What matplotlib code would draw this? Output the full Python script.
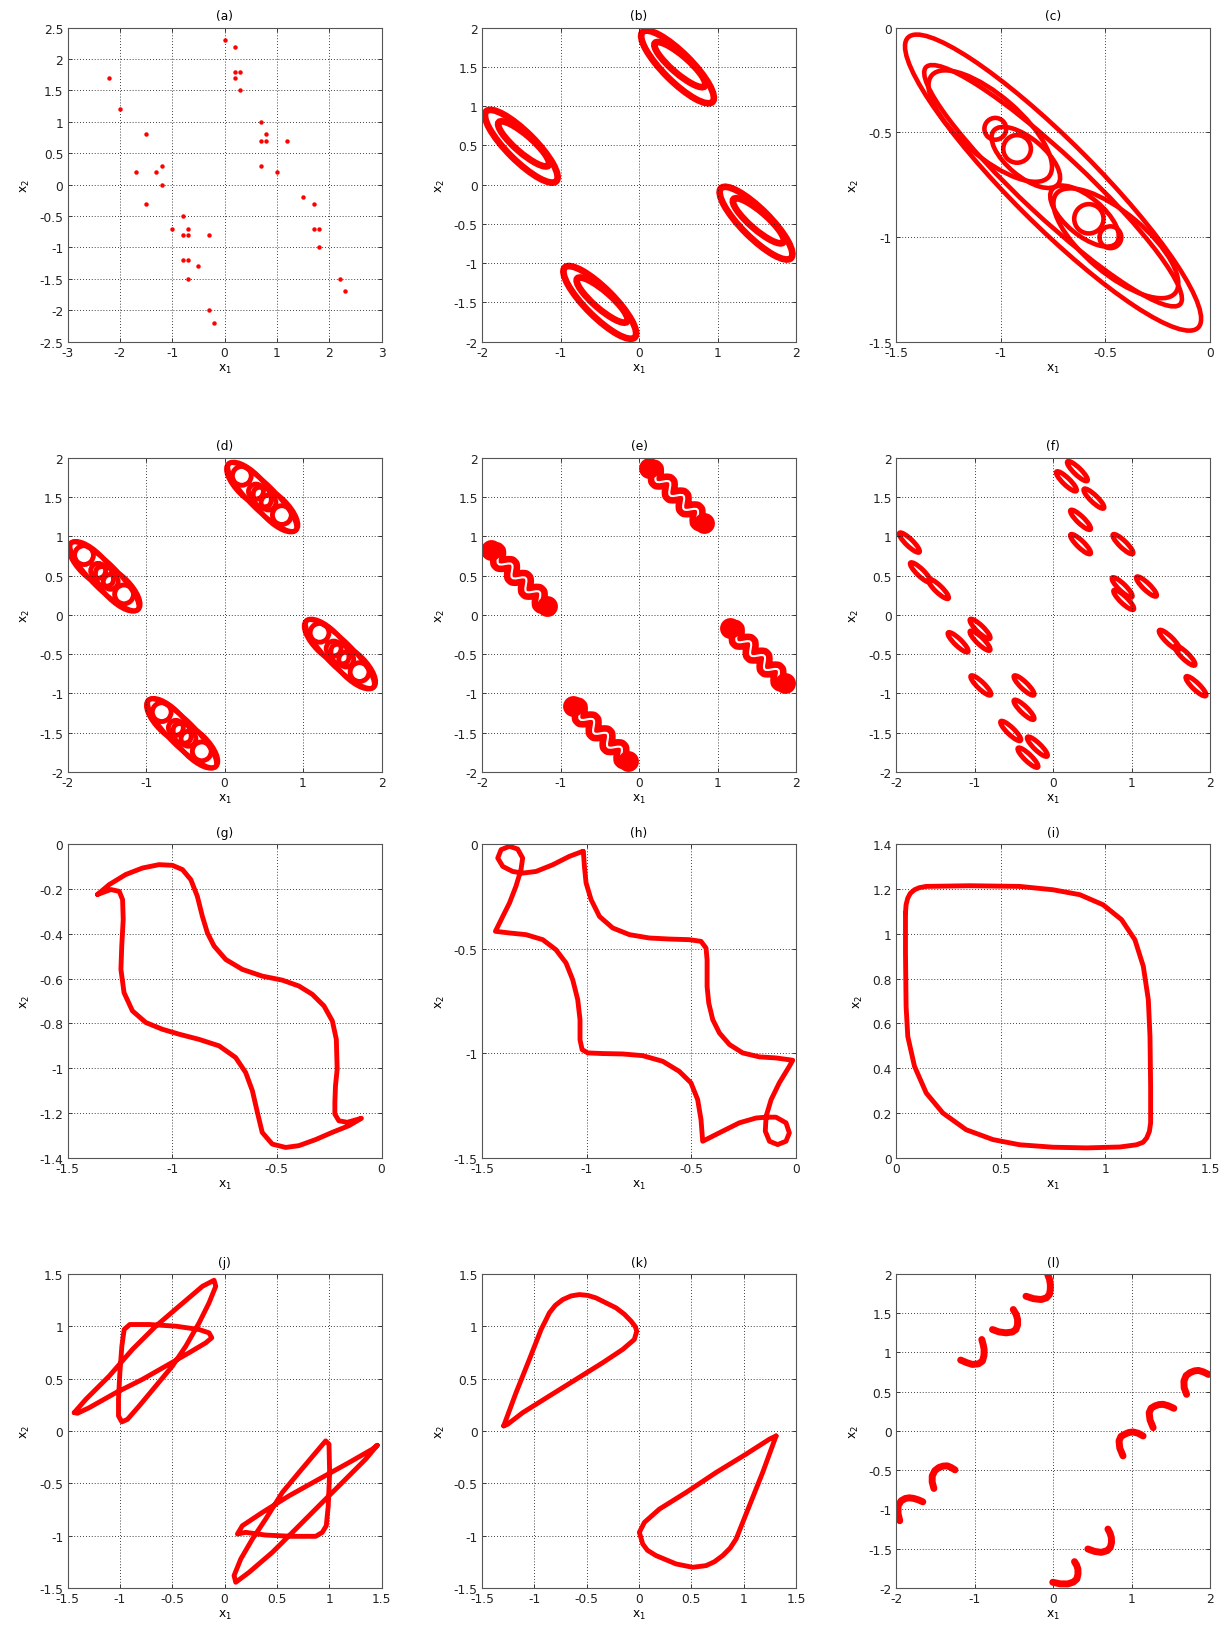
import numpy as np
import matplotlib
matplotlib.use('Agg')
import matplotlib.pyplot as plt
from matplotlib.patches import Ellipse
from matplotlib.ticker import FuncFormatter

plt.rcParams['font.family'] = ['DejaVu Sans']
plt.rcParams['font.size'] = 8.8
plt.rcParams['axes.unicode_minus'] = False
plt.rcParams['mathtext.fontset'] = 'dejavusans'

RED = '#ff0000'

###############################################
### Data

# (a) scattered points
a_x = [-2.2, -2.0, -1.5, -1.7, -1.3, -1.2, -1.2, -1.5, -0.8, -1.0, -0.8, -0.7, -0.7, -0.3,
       -0.8, -0.7, -0.5, -0.7, -0.3, -0.2, 0.0, 0.2, 0.2, 0.3, 0.2, 0.3, 0.7, 0.8, 0.7, 0.8,
       1.2, 0.7, 1.0, 1.5, 1.7, 1.7, 1.8, 1.8, 2.2, 2.3]
a_y = [1.7, 1.2, 0.8, 0.2, 0.2, 0.3, 0.0, -0.3, -0.5, -0.7, -0.8, -0.7, -0.8, -0.8,
       -1.2, -1.2, -1.3, -1.5, -2.0, -2.2, 2.3, 2.2, 1.8, 1.8, 1.7, 1.5, 1.0, 0.8, 0.7, 0.7,
       0.7, 0.3, 0.2, -0.2, -0.3, -0.7, -0.7, -1.0, -1.5, -1.7]

# (b) cluster centres, and the two ellipses inside one cluster
b_cx = [0.49, -1.5, 1.49, -0.5]
b_cy = [1.5, 0.49, -0.49, -1.5]
b_dx = [0.0, 0.03]
b_dy = [0.0, 0.03]
b_a = [0.63, 0.42]
b_b = [0.18, 0.11]
b_ang = [-45, -41]

# (c) ellipses and small loops
c_cx = [-0.75, -0.75, -1.05, -0.45, -0.88, -0.60]
c_cy = [-0.74, -0.755, -0.47, -1.03, -0.62, -0.90]
c_a = [0.98, 0.83, 0.37, 0.37, 0.20, 0.20]
c_b = [0.20, 0.15, 0.145, 0.145, 0.09, 0.09]
c_ang = [-45, -43, -41, -40, -40, -40]
c_loop_x = [-1.026, -0.922, -0.579, -0.476]
c_loop_y = [-0.483, -0.579, -0.913, -1.001]
c_loop_r = [0.052, 0.066, 0.07, 0.052]

# (d) cluster centres, and the ellipses / loops inside one cluster
d_cx = [0.48, -1.53, 1.47, -0.54]
d_cy = [1.50, 0.49, -0.50, -1.51]
d_dx = [0.0, -0.17, 0.17, -0.26, 0.25, -0.08, 0.08]
d_dy = [0.0, 0.16, -0.16, 0.27, -0.23, 0.07, -0.07]
d_a = [0.60, 0.37, 0.37, 0.12, 0.12, 0.095, 0.095]
d_b = [0.16, 0.16, 0.16, 0.12, 0.12, 0.095, 0.095]

# (e) wavy bands: centres, along-axis position and side offset of the wave
e_cx = [0.48, -1.53, 1.51, -0.49]
e_cy = [1.52, 0.47, -0.52, -1.51]
e_s = [-0.500, -0.475, -0.450, -0.425, -0.400, -0.375, -0.350, -0.325, -0.300, -0.275,
       -0.250, -0.225, -0.200, -0.175, -0.150, -0.125, -0.100, -0.075, -0.050, -0.025,
       0.000, 0.025, 0.050, 0.075, 0.100, 0.125, 0.150, 0.175, 0.200, 0.225,
       0.250, 0.275, 0.300, 0.325, 0.350, 0.375, 0.400, 0.425, 0.450, 0.475, 0.500]
e_d = [0.0, 0.035, 0.057, 0.057, 0.035, 0.0, -0.035, -0.057, -0.057, -0.035,
       0.0, 0.035, 0.057, 0.057, 0.035, 0.0, -0.035, -0.057, -0.057, -0.035,
       0.0, 0.035, 0.057, 0.057, 0.035, 0.0, -0.035, -0.057, -0.057, -0.035,
       0.0, 0.035, 0.057, 0.057, 0.035, 0.0, -0.035, -0.057, -0.057, -0.035, 0.0]

# (f) thin ellipse centres
f_cx = [0.31, 0.17, 0.52, 0.35, 0.35, 0.89, 0.88, 0.90, 1.19, 1.48, 1.68, 1.82,
        -1.83, -1.69, -1.46, -1.21, -0.93, -0.93, -0.92, -0.37, -0.37, -0.54, -0.20, -0.32]
f_cy = [1.83, 1.70, 1.48, 1.21, 0.90, 0.90, 0.35, 0.19, 0.36, -0.32, -0.52, -0.91,
        0.92, 0.54, 0.33, -0.35, -0.18, -0.33, -0.90, -0.90, -1.21, -1.48, -1.68, -1.82]

# (g) closed curve
g_curve = [(-1.357, -0.225), (-1.301, -0.181), (-1.222, -0.136), (-1.142, -0.107),
           (-1.063, -0.092), (-0.999, -0.095), (-0.951, -0.114), (-0.911, -0.159),
           (-0.880, -0.233), (-0.856, -0.322), (-0.832, -0.396), (-0.800, -0.455),
           (-0.744, -0.515), (-0.665, -0.559), (-0.570, -0.589), (-0.474, -0.607),
           (-0.395, -0.633), (-0.331, -0.670), (-0.275, -0.722), (-0.235, -0.789),
           (-0.216, -0.871), (-0.212, -1.004), (-0.220, -1.078), (-0.223, -1.152),
           (-0.223, -1.204), (-0.204, -1.234), (-0.164, -1.241), (-0.096, -1.223),
           (-0.156, -1.256), (-0.236, -1.286), (-0.315, -1.318), (-0.395, -1.345),
           (-0.458, -1.353), (-0.522, -1.338), (-0.570, -1.286), (-0.593, -1.197),
           (-0.617, -1.100), (-0.649, -1.019), (-0.697, -0.952), (-0.776, -0.900),
           (-0.872, -0.871), (-0.967, -0.848), (-1.047, -0.826), (-1.126, -0.796),
           (-1.190, -0.744), (-1.230, -0.663), (-1.245, -0.559), (-1.241, -0.455),
           (-1.234, -0.337), (-1.237, -0.248), (-1.253, -0.211), (-1.293, -0.203),
           (-1.357, -0.225)]

# (h) closed curve with two small loops
h_curve = [(-1.019, -0.035), (-1.083, -0.059), (-1.162, -0.099), (-1.242, -0.131),
           (-1.306, -0.139), (-1.354, -0.131), (-1.401, -0.107), (-1.425, -0.067),
           (-1.409, -0.027), (-1.369, -0.011), (-1.330, -0.024), (-1.306, -0.067),
           (-1.314, -0.123), (-1.338, -0.202), (-1.369, -0.282), (-1.401, -0.346),
           (-1.436, -0.417), (-1.369, -0.425), (-1.290, -0.433), (-1.210, -0.457),
           (-1.147, -0.505), (-1.099, -0.568), (-1.067, -0.648), (-1.043, -0.743),
           (-1.032, -0.839), (-1.032, -0.935), (-1.022, -0.982), (-0.995, -0.998),
           (-0.924, -1.001), (-0.828, -1.003), (-0.733, -1.011), (-0.637, -1.038),
           (-0.558, -1.086), (-0.502, -1.141), (-0.470, -1.221), (-0.454, -1.317),
           (-0.446, -1.420), (-0.367, -1.380), (-0.271, -1.332), (-0.191, -1.309),
           (-0.144, -1.305), (-0.096, -1.305), (-0.048, -1.332), (-0.032, -1.380),
           (-0.048, -1.420), (-0.088, -1.436), (-0.127, -1.420), (-0.147, -1.372),
           (-0.143, -1.301), (-0.119, -1.221), (-0.080, -1.141), (-0.032, -1.062),
           (-0.016, -1.033), (-0.096, -1.022), (-0.175, -1.017), (-0.255, -0.998),
           (-0.318, -0.958), (-0.366, -0.903), (-0.398, -0.839), (-0.417, -0.760),
           (-0.425, -0.680), (-0.425, -0.553), (-0.430, -0.497), (-0.454, -0.465),
           (-0.510, -0.457), (-0.605, -0.454), (-0.701, -0.449), (-0.796, -0.433),
           (-0.876, -0.401), (-0.939, -0.346), (-0.979, -0.266), (-1.003, -0.186),
           (-1.011, -0.107), (-1.016, -0.035)]

# (i) rounded square cycle
i_curve = [(0.045, 1.092), (0.045, 0.914), (0.048, 0.676), (0.056, 0.542), (0.088, 0.409),
           (0.144, 0.290), (0.223, 0.201), (0.335, 0.126), (0.463, 0.082), (0.590, 0.059),
           (0.750, 0.048), (0.910, 0.045), (1.069, 0.049), (1.149, 0.059), (1.180, 0.070),
           (1.197, 0.089), (1.210, 0.118), (1.216, 0.156), (1.216, 0.320), (1.213, 0.542),
           (1.205, 0.706), (1.181, 0.855), (1.141, 0.973), (1.077, 1.063), (0.989, 1.129),
           (0.878, 1.174), (0.750, 1.196), (0.590, 1.211), (0.351, 1.214), (0.144, 1.211),
           (0.110, 1.205), (0.088, 1.196), (0.068, 1.180), (0.056, 1.159), (0.048, 1.130),
           (0.045, 1.092)]

# (j) two star-like cycles
j_upper = [(-1.436, 0.175), (-1.325, 0.302), (-1.102, 0.524), (-0.880, 0.779),
           (-0.657, 1.001), (-0.434, 1.192), (-0.211, 1.382), (-0.100, 1.440),
           (-0.084, 1.382), (-0.148, 1.224), (-0.243, 1.033), (-0.370, 0.810),
           (-0.498, 0.620), (-0.657, 0.429), (-0.816, 0.238), (-0.927, 0.111),
           (-0.981, 0.086), (-1.013, 0.143), (-1.013, 0.302), (-1.000, 0.556),
           (-0.981, 0.810), (-0.959, 0.969), (-0.905, 1.017), (-0.720, 1.017),
           (-0.466, 1.001), (-0.243, 0.969), (-0.148, 0.937), (-0.122, 0.890),
           (-0.179, 0.842), (-0.339, 0.747), (-0.561, 0.620), (-0.784, 0.493),
           (-1.039, 0.365), (-1.293, 0.222), (-1.405, 0.169), (-1.436, 0.175)]
j_lower = [(1.459, -0.137), (1.348, -0.270), (1.125, -0.493), (0.902, -0.715),
           (0.680, -0.938), (0.457, -1.160), (0.234, -1.351), (0.107, -1.446),
           (0.091, -1.382), (0.155, -1.224), (0.266, -1.033), (0.393, -0.842),
           (0.552, -0.588), (0.711, -0.397), (0.871, -0.207), (0.966, -0.095),
           (0.998, -0.127), (1.004, -0.397), (0.991, -0.715), (0.972, -0.906),
           (0.934, -0.969), (0.871, -1.007), (0.648, -1.007), (0.393, -0.995),
           (0.202, -0.969), (0.123, -0.985), (0.170, -0.906), (0.361, -0.779),
           (0.616, -0.620), (0.902, -0.461), (1.189, -0.302), (1.411, -0.175),
           (1.459, -0.137)]

# (k) two teardrop cycles
k_upper = [(-1.293, 0.048), (-1.175, 0.366), (-1.048, 0.683), (-0.936, 0.969),
           (-0.890, 1.060), (-0.857, 1.128), (-0.800, 1.200), (-0.729, 1.255),
           (-0.650, 1.290), (-0.570, 1.303), (-0.490, 1.295), (-0.411, 1.271),
           (-0.220, 1.176), (-0.140, 1.115), (-0.076, 1.049), (-0.035, 0.995),
           (-0.022, 0.953), (-0.045, 0.874), (-0.156, 0.779), (-0.347, 0.652),
           (-0.602, 0.493), (-0.857, 0.334), (-1.111, 0.175), (-1.255, 0.064),
           (-1.293, 0.048)]
k_lower = [(1.309, -0.048), (1.181, -0.397), (1.054, -0.715), (0.927, -1.033),
           (0.870, -1.120), (0.799, -1.191), (0.720, -1.250), (0.640, -1.287),
           (0.513, -1.303), (0.354, -1.271), (0.162, -1.191), (0.080, -1.140),
           (0.035, -1.080), (0.003, -0.969), (0.051, -0.874), (0.194, -0.747),
           (0.449, -0.588), (0.736, -0.397), (1.022, -0.222), (1.245, -0.079),
           (1.309, -0.048)]

# (l) ten short hooks
l_hooks = [
    [(-1.177, 0.903), (-1.100, 0.870), (-1.028, 0.847), (-0.950, 0.855), (-0.900, 0.890),
     (-0.880, 0.960), (-0.878, 1.038), (-0.890, 1.100), (-0.908, 1.165)],
    [(-0.772, 1.292), (-0.690, 1.262), (-0.601, 1.250), (-0.520, 1.260), (-0.473, 1.292),
     (-0.452, 1.350), (-0.452, 1.420), (-0.470, 1.485), (-0.507, 1.547)],
    [(-0.345, 1.716), (-0.250, 1.685), (-0.153, 1.674), (-0.085, 1.695), (-0.047, 1.737),
     (-0.035, 1.800), (-0.034, 1.864), (-0.045, 1.930), (-0.068, 1.992)],
    [(-0.004, -1.928), (0.090, -1.948), (0.188, -1.949), (0.260, -1.925), (0.303, -1.886),
     (0.318, -1.820), (0.316, -1.758), (0.300, -1.710), (0.273, -1.665)],
    [(0.443, -1.504), (0.530, -1.535), (0.614, -1.547), (0.690, -1.525), (0.729, -1.483),
     (0.745, -1.420), (0.742, -1.356), (0.725, -1.300), (0.699, -1.250)],
    [(-1.953, -1.144), (-1.975, -1.050), (-1.974, -0.953), (-1.935, -0.890), (-1.881, -0.860),
     (-1.830, -0.852), (-1.774, -0.860), (-1.715, -0.878), (-1.659, -0.903)],
    [(-1.518, -0.733), (-1.540, -0.650), (-1.539, -0.572), (-1.505, -0.505), (-1.454, -0.466),
     (-1.400, -0.448), (-1.348, -0.445), (-1.300, -0.465), (-1.249, -0.496)],
    [(0.891, -0.318), (0.850, -0.220), (0.840, -0.127), (0.865, -0.070), (0.913, -0.042),
     (0.965, -0.020), (1.019, -0.013), (1.085, -0.030), (1.147, -0.064)],
    [(1.275, 0.042), (1.235, 0.140), (1.224, 0.233), (1.250, 0.290), (1.296, 0.318),
     (1.350, 0.336), (1.403, 0.339), (1.470, 0.320), (1.539, 0.288)],
    [(1.701, 0.466), (1.670, 0.550), (1.667, 0.636), (1.695, 0.705), (1.744, 0.742),
     (1.800, 0.765), (1.851, 0.771), (1.915, 0.752), (1.979, 0.720)],
]

###############################################
### Layout

fig = plt.figure(figsize=(12.3, 16.31), dpi=100)
lefts = [0.0549, 0.3919, 0.7285]
bottoms = [0.7899, 0.5262, 0.2894, 0.0258]
W, H = 0.2553, 0.1925

fmt = FuncFormatter(lambda v, pos: '%g' % (round(v, 6) + 0.0))


def panel(row, col, title, xlim, xstep, ylim, ystep):
    ax = fig.add_axes([lefts[col], bottoms[row], W, H])
    ax.set_xlim(xlim)
    ax.set_ylim(ylim)
    ax.set_xticks(np.round(np.arange(xlim[0], xlim[1] + xstep / 2, xstep), 6))
    ax.set_yticks(np.round(np.arange(ylim[0], ylim[1] + ystep / 2, ystep), 6))
    ax.xaxis.set_major_formatter(fmt)
    ax.yaxis.set_major_formatter(fmt)
    ax.grid(True, color='black', linestyle=(0, (1, 2.5)), linewidth=0.6)
    ax.tick_params(direction='in', length=3, width=0.6, top=True, right=True,
                   labelsize=8.8, pad=3, colors='#222222')
    for sp in ax.spines.values():
        sp.set_color('#555555')
        sp.set_linewidth(0.8)
    ax.set_title(title, fontsize=8.8, pad=6)
    ax.set_xlabel(r'x$_1$', fontsize=8.8, labelpad=2)
    ax.set_ylabel(r'x$_2$', fontsize=8.8, labelpad=5)
    return ax


def ellipse(ax, cx, cy, a, b, ang, lw):
    ax.add_patch(Ellipse((cx, cy), 2 * a, 2 * b, angle=ang, fill=False,
                         edgecolor=RED, linewidth=lw))


def curve(ax, pts, lw=3.5):
    p = np.array(pts)
    ax.plot(p[:, 0], p[:, 1], color=RED, linewidth=lw,
            solid_joinstyle='round', solid_capstyle='round')


###############################################
### (a)
ax = panel(0, 0, '(a)', (-3, 3), 1, (-2.5, 2.5), 0.5)
ax.plot(a_x, a_y, 'o', color=RED, markersize=3.2, markeredgewidth=0)

### (b)
ax = panel(0, 1, '(b)', (-2, 2), 1, (-2, 2), 0.5)
for cx, cy in zip(b_cx, b_cy):
    for dx, dy, a, b, ang in zip(b_dx, b_dy, b_a, b_b, b_ang):
        ellipse(ax, cx + dx, cy + dy, a, b, ang, 4.8)

### (c)
ax = panel(0, 2, '(c)', (-1.5, 0), 0.5, (-1.5, 0), 0.5)
for cx, cy, a, b, ang in zip(c_cx, c_cy, c_a, c_b, c_ang):
    ellipse(ax, cx, cy, a, b, ang, 3.3)
for cx, cy, r in zip(c_loop_x, c_loop_y, c_loop_r):
    ellipse(ax, cx, cy, r, r, 0, 3.3)

### (d)
ax = panel(1, 0, '(d)', (-2, 2), 1, (-2, 2), 0.5)
for cx, cy in zip(d_cx, d_cy):
    for dx, dy, a, b in zip(d_dx, d_dy, d_a, d_b):
        ellipse(ax, cx + dx, cy + dy, a, b, -45, 3.5)

### (e)
ax = panel(1, 1, '(e)', (-2, 2), 1, (-2, 2), 0.5)
u = np.array([1.0, -1.0]) / np.sqrt(2)
v = np.array([1.0, 1.0]) / np.sqrt(2)
s = np.array(e_s)
d = np.array(e_d)
for cx, cy in zip(e_cx, e_cy):
    wx = cx + s * u[0] + d * v[0]
    wy = cy + s * u[1] + d * v[1]
    ax.plot(wx, wy, color=RED, linewidth=11, solid_joinstyle='round',
            solid_capstyle='round')
    ax.plot(wx[2:-2], wy[2:-2], color='white', linewidth=1.5)
    ax.plot([wx[0], wx[-1]], [wy[0], wy[-1]], 'o', color=RED, markersize=15,
            markeredgewidth=0)

### (f)
ax = panel(1, 2, '(f)', (-2, 2), 1, (-2, 2), 0.5)
for cx, cy in zip(f_cx, f_cy):
    ellipse(ax, cx, cy, 0.175, 0.045, -44, 3.5)

### (g)
ax = panel(2, 0, '(g)', (-1.5, 0), 0.5, (-1.4, 0), 0.2)
curve(ax, g_curve)

### (h)
ax = panel(2, 1, '(h)', (-1.5, 0), 0.5, (-1.5, 0), 0.5)
curve(ax, h_curve)

### (i)
ax = panel(2, 2, '(i)', (0, 1.5), 0.5, (0, 1.4), 0.2)
curve(ax, i_curve)

### (j)
ax = panel(3, 0, '(j)', (-1.5, 1.5), 0.5, (-1.5, 1.5), 0.5)
curve(ax, j_upper)
curve(ax, j_lower)

### (k)
ax = panel(3, 1, '(k)', (-1.5, 1.5), 0.5, (-1.5, 1.5), 0.5)
curve(ax, k_upper)
curve(ax, k_lower)

### (l)
ax = panel(3, 2, '(l)', (-2, 2), 1, (-2, 2), 0.5)
for hook in l_hooks:
    curve(ax, hook, lw=5)

plt.savefig('out.png', dpi=100)
